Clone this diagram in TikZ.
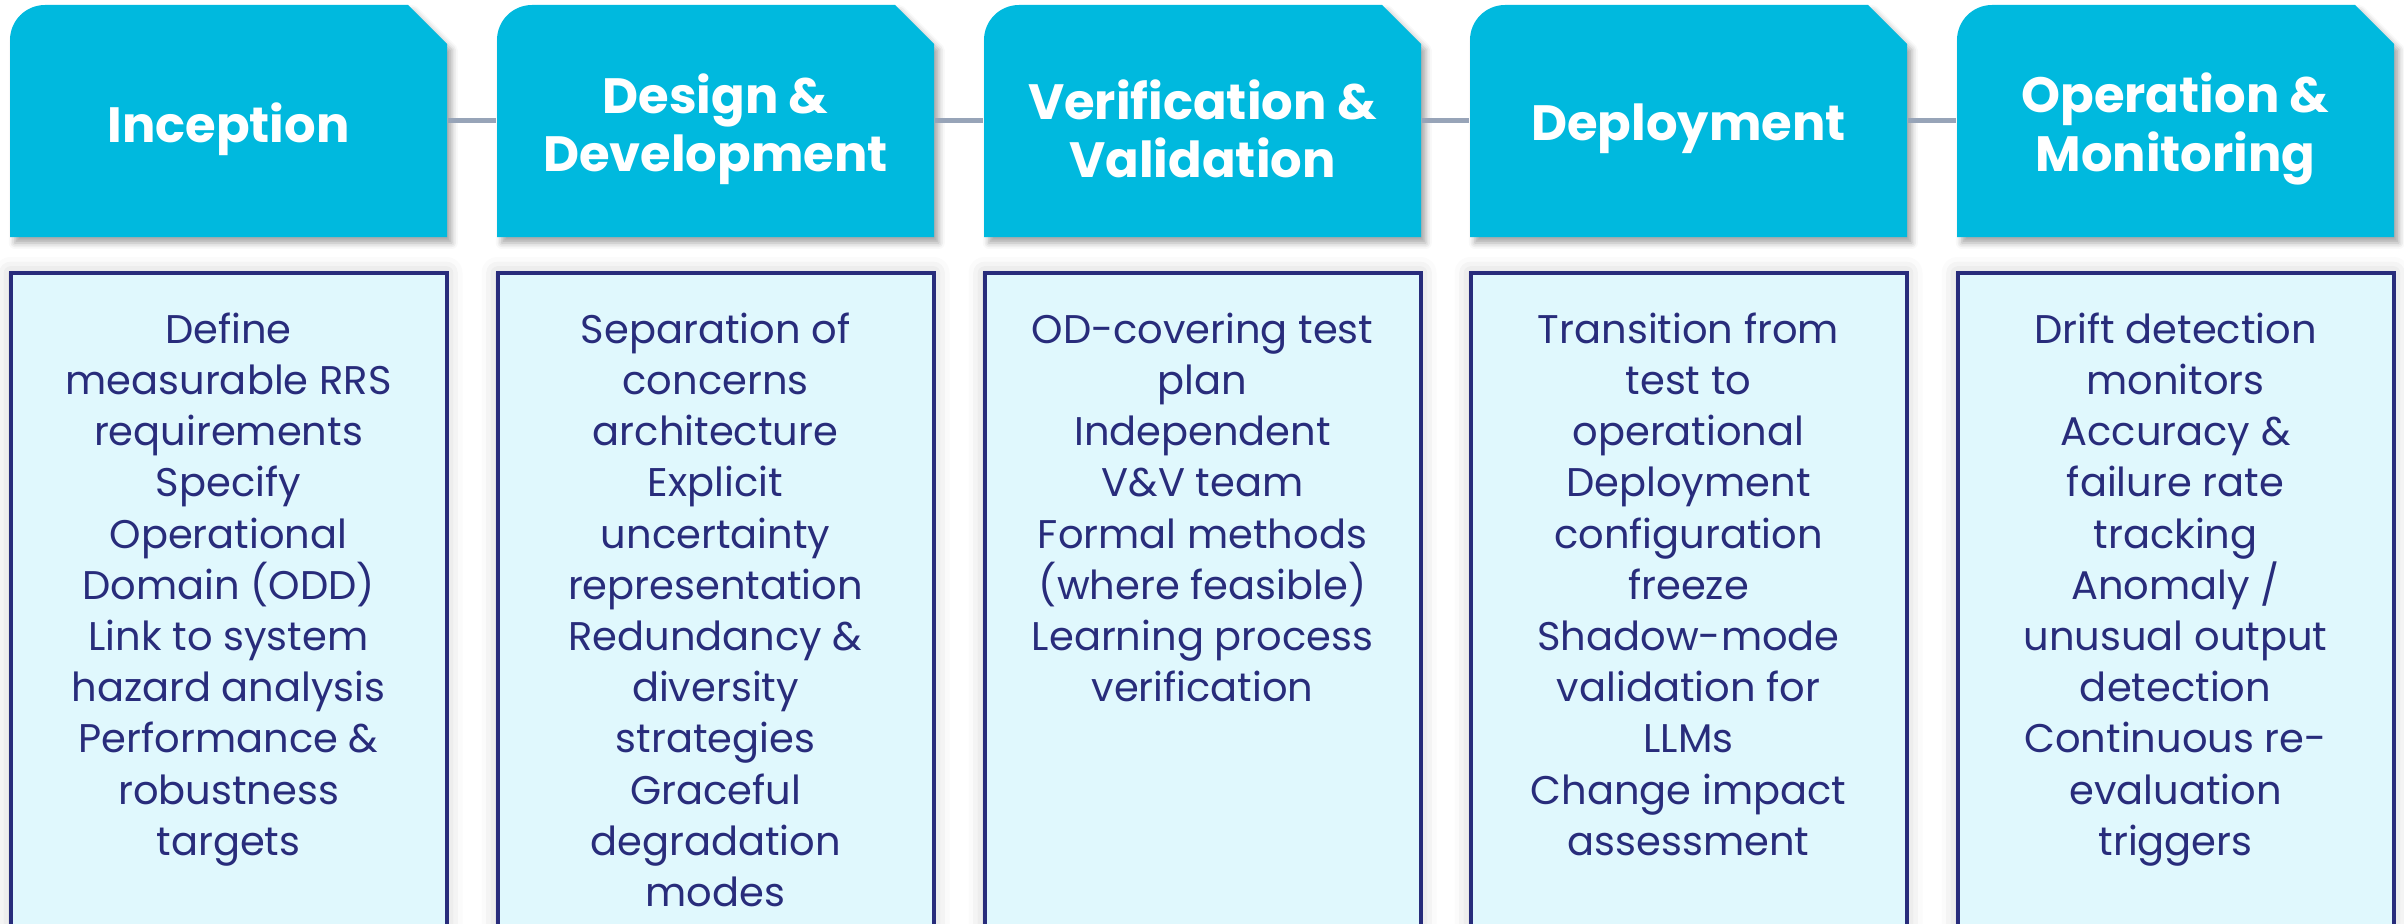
\documentclass[tikz,border=0pt]{standalone}
\usepackage{fontspec}
\setmainfont{Poppins}
\usetikzlibrary{shadows.blur}

\definecolor{headcyan}{HTML}{00B9DE}
\definecolor{bodycyan}{HTML}{E0F8FD}
\definecolor{navy}{HTML}{282C7B}
\definecolor{linkgray}{HTML}{97A4B8}

\tikzset{
  headshape/.style={fill=headcyan,
    blur shadow={shadow xshift=1.2pt, shadow yshift=-1.5pt,
                 shadow blur radius=1.5pt, shadow opacity=35}},
  headframe/.style={minimum width=109.25pt, minimum height=58pt, inner sep=0pt},
  headlabel/.style={text=white, font=\fontsize{12.4}{14.6}\selectfont\bfseries,
    align=center, inner sep=0pt},
  bodybox/.style={draw=navy, line width=1pt, fill=bodycyan, anchor=north,
    minimum width=109pt, minimum height=172pt, inner sep=0pt,
    blur shadow={shadow xshift=0pt, shadow yshift=0pt,
                 shadow blur radius=4pt, shadow opacity=22}},
  bodytext/.style={text=navy, font=\fontsize{10}{12.8}\selectfont,
    align=center, anchor=north, inner sep=0pt},
  link/.style={draw=linkgray, line width=1.25pt}
}

\begin{document}
\begin{tikzpicture}[x=0.25pt, y=0.25pt]
\useasboundingbox (0,0) rectangle (2404,923);

\foreach \i/\x/\head/\body in {
  1/10/{Inception}/{Define\\measurable RRS\\requirements\\Specify\\Operational\\Domain (ODD)\\Link to system\\hazard analysis\\Performance \&\\robustness\\targets},
  2/497/{Design \&\\Development}/{Separation of\\concerns\\architecture\\Explicit\\uncertainty\\representation\\Redundancy \&\\diversity\\strategies\\Graceful\\degradation\\modes},
  3/984/{Verification \&\\Validation}/{OD-covering test\\plan\\Independent\\V\&V team\\Formal methods\\(where feasible)\\Learning process\\verification},
  4/1470/{Deployment}/{Transition from\\test to\\operational\\Deployment\\configuration\\freeze\\Shadow-mode\\validation for\\LLMs\\Change impact\\assessment},
  5/1957/{Operation \&\\Monitoring}/{Drift detection\\monitors\\Accuracy \&\\failure rate\\tracking\\Anomaly /\\unusual output\\detection\\Continuous re-\\evaluation\\triggers}%
}{
  % phase header: rounded top-left corner, clipped top-right corner
  \fill[headshape] (\x,686) -- (\x,883)
      arc[start angle=180, end angle=90, radius=8.75pt]
      -- (\x+398,918) -- (\x+437,879) -- (\x+437,686) -- cycle;
  \node[headframe] (hd\i) at (\x+218.5,802) {};
  \node[headlabel] (h\i) at (\x+218.5,794) {\head};
  % activity box below the header
  \node[bodybox] (b\i) at (\x+218.5,652) {};
  \node[bodytext] (t\i) at (\x+218.5,611) {\body};
}

% timeline links between consecutive phases
\foreach \a/\b in {1/2,2/3,3/4,4/5}
  \draw[link] (hd\a.east) -- (hd\b.west);
\end{tikzpicture}
\end{document}
